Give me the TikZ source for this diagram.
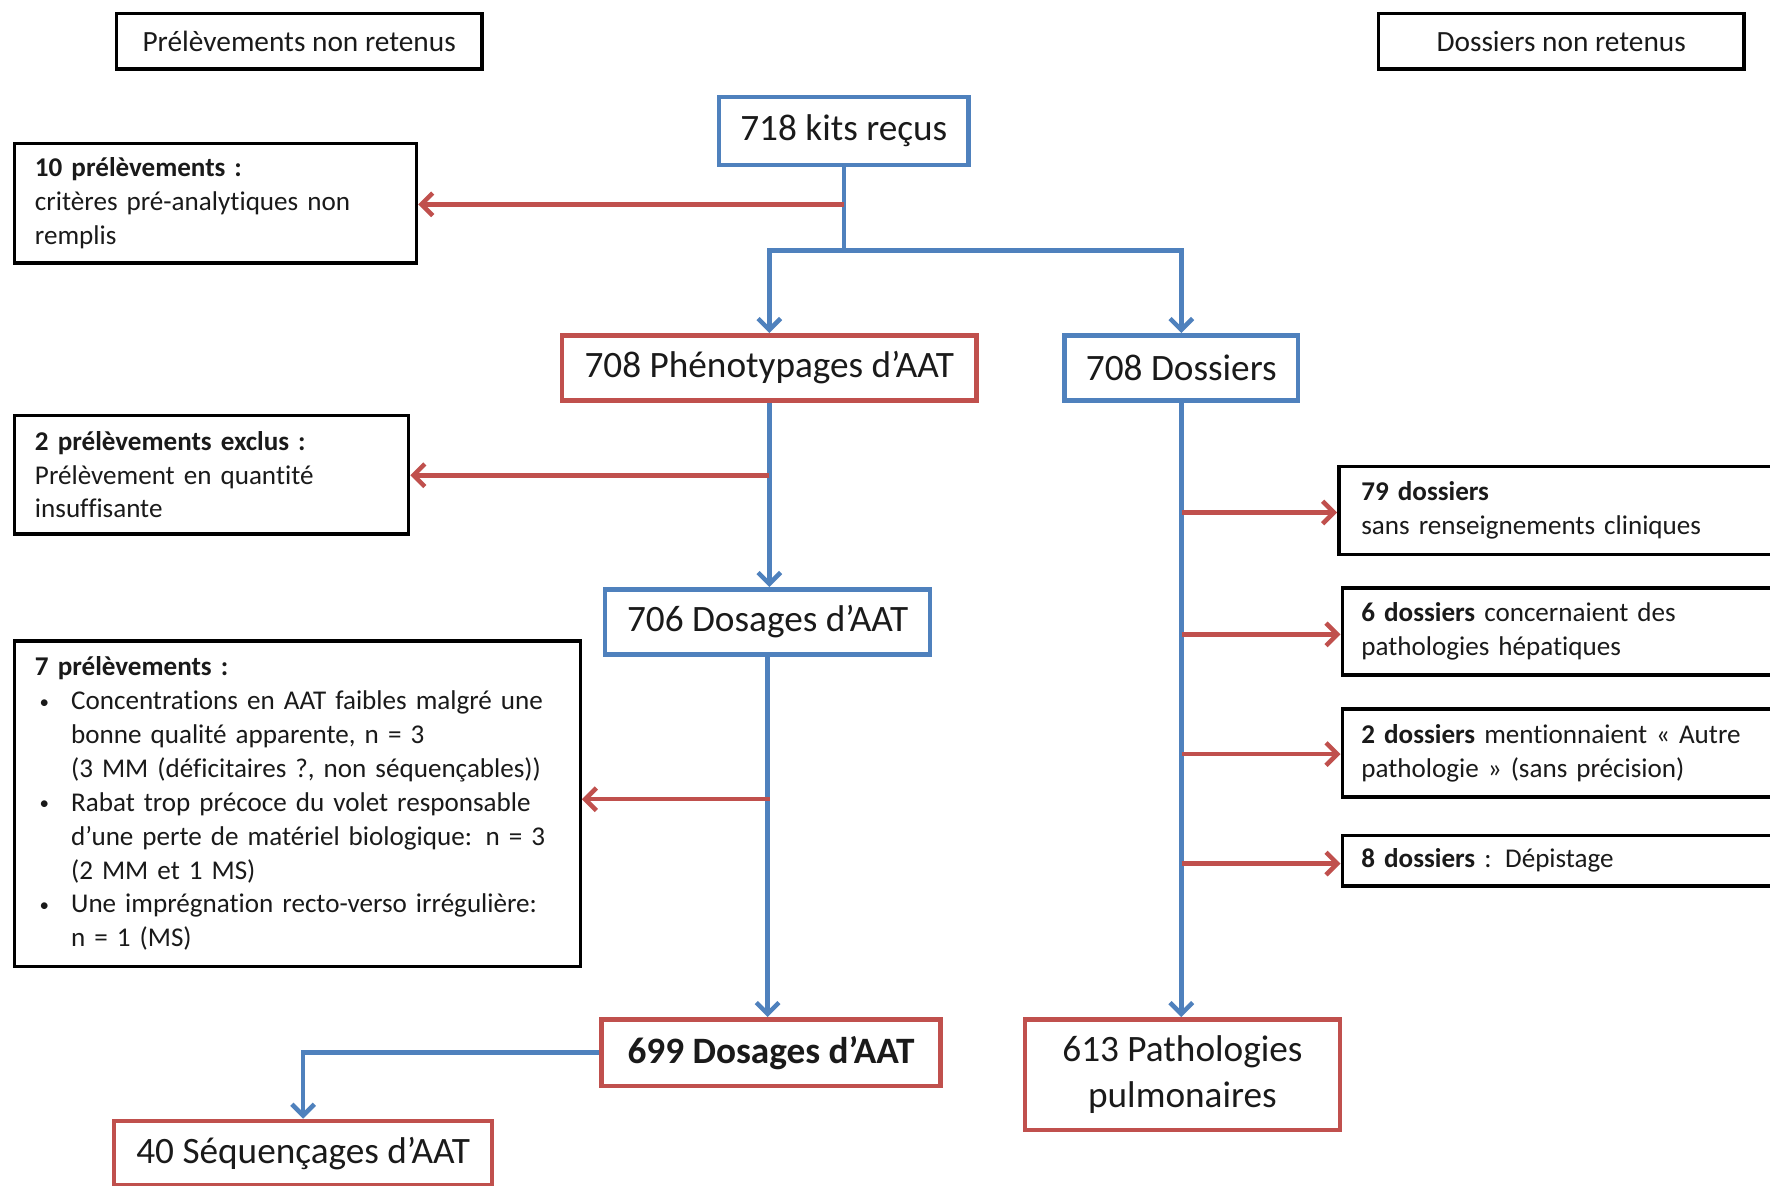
\documentclass[tikz,border=0pt]{standalone}
\usepackage{fontspec}
\setmainfont{Carlito}[Ligatures=NoCommon]
\usetikzlibrary{arrows.meta}
\definecolor{ablue}{HTML}{4F81BD}
\definecolor{ared}{HTML}{C0504D}
\definecolor{txt}{HTML}{1A1A1A}
\newcommand\mainsz{\fontsize{33}{41}\selectfont}
\newcommand\notesz{\fontsize{24}{30}\selectfont}
\newcommand\hdrsz{\fontsize{26}{30}\selectfont}
\newcommand\bul{\hspace*{4pt}\makebox[28pt][l]{\raisebox{1.5pt}{\scalebox{0.7}{•}}}}
\newcommand\ind{\hspace*{32pt}}
\begin{document}
\begin{tikzpicture}[x=1pt,y=-1pt,
  blk/.style={draw=black, line width=3pt, fill=white, inner sep=0pt, text=txt, font=\notesz, align=left},
  bbox/.style={draw=ablue, line width=4pt, fill=white, inner sep=0pt, text=txt, font=\mainsz, align=center},
  rbox/.style={draw=ared, line width=4pt, fill=white, inner sep=0pt, text=txt, font=\mainsz, align=center},
  bl/.style={draw=ablue, line width=4pt},
  ba/.style={bl, -{Straight Barb[length=10pt,width=20pt]}},
  ra/.style={draw=ared, line width=4pt, -{Straight Barb[length=10pt,width=20pt]}}]
\fill[white] (0,0) rectangle (1568,1050);
\useasboundingbox (0,0) rectangle (1568,1050);

% headers
\node[blk, font=\hdrsz, align=center, minimum width=324pt, minimum height=49pt] (pnr) at (265,36.5) {Prélèvements non retenus};
\node[blk, font=\hdrsz, align=center, minimum width=324pt, minimum height=49pt] (dnr) at (1383,36.5) {Dossiers non retenus};

% main flow
\node[bbox, minimum width=221pt, minimum height=60pt] (kits) at (747.5,116) {718 kits reçus};
\node[rbox, minimum width=367pt, minimum height=58pt] (phen) at (681.5,326) {708 Phénotypages d’AAT};
\node[bbox, minimum width=207pt, minimum height=58pt] (doss) at (1046.5,326) {708 Dossiers};
\node[bbox, minimum width=288pt, minimum height=58pt] (d706) at (680,551) {706 Dosages d’AAT};
\node[rbox, minimum width=300pt, minimum height=59pt, font=\mainsz\bfseries] (d699) at (683,932.5) {699 Dosages d’AAT};
\node[rbox, minimum width=279pt, minimum height=98pt] (pulm) at (1047.5,952) {613 Pathologies\\pulmonaires};
\node[rbox, minimum width=335pt, minimum height=57pt] (seq) at (268.5,1021.5) {40 Séquençages d’AAT};

% left exclusion boxes
\node[blk, minimum width=356pt, minimum height=106pt, text width=320pt] (ex10) at (191,180)
 {\textbf{10 prélèvements :}\\critères pré-analytiques non\\remplis};
\node[blk, minimum width=349pt, minimum height=105pt, text width=313pt] (ex2) at (187.5,420.5)
 {\textbf{2 prélèvements exclus :}\\Prélèvement en quantité\\insuffisante};
\node[blk, minimum width=501pt, minimum height=288pt, text width=465pt] (ex7) at (263.5,712)
 {\textbf{7 prélèvements :}\\
  \bul Concentrations en AAT faibles malgré une\\
  \ind bonne qualité apparente, n = 3\\
  \ind (3 MM (déficitaires ?, non séquençables))\\
  \bul Rabat trop précoce du volet responsable\\
  \ind d’une perte de matériel biologique: n = 3\\
  \ind (2 MM et 1 MS)\\
  \bul Une imprégnation recto-verso irrégulière:\\
  \ind n = 1 (MS)};

% right exclusion boxes
\node[blk, minimum width=386pt, minimum height=78pt, text width=346pt] (r79) at (1379,452)
 {\textbf{79 dossiers}\\sans renseignements cliniques};
\node[blk, minimum width=383pt, minimum height=77pt, text width=349pt] (r6) at (1380.5,559.5)
 {\textbf{6 dossiers} concernaient des\\pathologies hépatiques};
\node[blk, minimum width=383pt, minimum height=78pt, text width=349pt] (r2) at (1380.5,667)
 {\textbf{2 dossiers} mentionnaient « Autre\\pathologie » (sans précision)};
\node[blk, minimum width=383pt, minimum height=45pt, text width=349pt] (r8) at (1380.5,762.5)
 {\textbf{8 dossiers} : Dépistage};

% junctions
\coordinate (kj) at (747.5,222);
\coordinate (j10) at (747.5,181);
\coordinate (j2) at (681.5,421);
\coordinate (j7) at (682,708);
\coordinate (q1) at (1047,454);
\coordinate (q2) at (1047,562);
\coordinate (q3) at (1047,668);
\coordinate (q4) at (1047,765);

% blue connectors
\draw[bl] (kits.south) -- (kj);
\draw[ba] (kj) -| (phen.north);
\draw[ba] (kj) -| (doss.north);
\draw[ba] (phen.south) -- (phen.south |- d706.north);
\draw[ba] (d706.south) -- (d706.south |- d699.north);
\draw[ba] (doss.south) -- (doss.south |- pulm.north);
\draw[ba] (d699.west) -| (seq.north);

% red connectors
\draw[ra] (j10) -- (j10 -| ex10.east);
\draw[ra] (j2) -- (j2 -| ex2.east);
\draw[ra] (j7) -- (j7 -| ex7.east);
\draw[ra] (q1) -- (q1 -| r79.west);
\draw[ra] (q2) -- (q2 -| r6.west);
\draw[ra] (q3) -- (q3 -| r2.west);
\draw[ra] (q4) -- (q4 -| r8.west);
\end{tikzpicture}
\end{document}
